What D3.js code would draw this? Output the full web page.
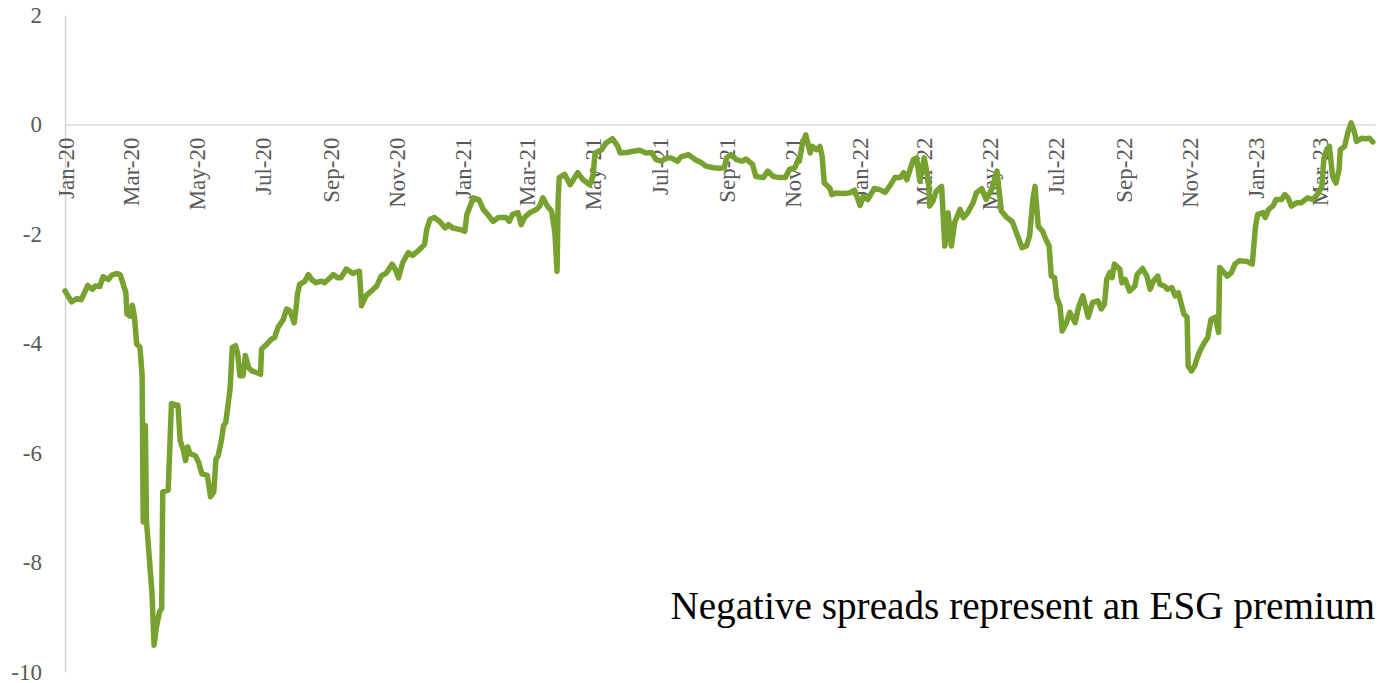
<!DOCTYPE html>
<html><head><meta charset="utf-8">
<script src="https://cdn.jsdelivr.net/npm/d3@7"></script>
<style>
html,body{margin:0;padding:0;background:#fff;}
svg{display:block;}
text{font-family:"Liberation Serif","Times New Roman",serif;}
</style></head>
<body><svg id="chart" width="1381" height="683"></svg>
<script>
const dates = [
"2020-01-01","2020-01-07","2020-01-12","2020-01-16","2020-01-22","2020-01-26","2020-01-29","2020-02-02","2020-02-05","2020-02-10",
"2020-02-13","2020-02-18","2020-02-21","2020-02-26","2020-02-27","2020-03-01","2020-03-03","2020-03-05","2020-03-06","2020-03-07",
"2020-03-10","2020-03-12","2020-03-13","2020-03-15","2020-03-16","2020-03-17","2020-03-21","2020-03-23","2020-03-25","2020-03-28",
"2020-03-30","2020-03-31","2020-04-05","2020-04-08","2020-04-14","2020-04-16","2020-04-19","2020-04-21","2020-04-23","2020-04-25",
"2020-04-30","2020-05-03","2020-05-06","2020-05-11","2020-05-14","2020-05-17","2020-05-19","2020-05-21","2020-05-24","2020-05-26",
"2020-05-28","2020-06-01","2020-06-03","2020-06-06","2020-06-08","2020-06-10","2020-06-13","2020-06-15","2020-06-18","2020-06-21",
"2020-06-25","2020-06-29","2020-06-30","2020-07-05","2020-07-09","2020-07-12","2020-07-15","2020-07-17","2020-07-20","2020-07-23",
"2020-07-26","2020-07-30","2020-08-01","2020-08-02","2020-08-04","2020-08-09","2020-08-12","2020-08-15","2020-08-19","2020-08-24",
"2020-08-27","2020-09-01","2020-09-04","2020-09-08","2020-09-11","2020-09-16","2020-09-22","2020-09-28","2020-09-30","2020-10-04",
"2020-10-09","2020-10-14","2020-10-18","2020-10-23","2020-10-28","2020-10-31","2020-11-03","2020-11-07","2020-11-12","2020-11-16",
"2020-11-21","2020-11-27","2020-11-29","2020-12-02","2020-12-06","2020-12-11","2020-12-16","2020-12-19","2020-12-23","2020-12-30",
"2021-01-03","2021-01-05","2021-01-08","2021-01-11","2021-01-16","2021-01-20","2021-01-24","2021-01-29","2021-02-03","2021-02-10",
"2021-02-13","2021-02-16","2021-02-21","2021-02-24","2021-02-27","2021-03-04","2021-03-10","2021-03-13","2021-03-16","2021-03-20",
"2021-03-24","2021-03-27","2021-03-29","2021-03-30","2021-03-31","2021-04-05","2021-04-10","2021-04-13","2021-04-17","2021-04-22",
"2021-04-28","2021-05-01","2021-05-03","2021-05-09","2021-05-13","2021-05-19","2021-05-24","2021-05-26","2021-06-01","2021-06-07",
"2021-06-13","2021-06-19","2021-06-24","2021-06-28","2021-07-03","2021-07-08","2021-07-12","2021-07-18","2021-07-21","2021-07-28",
"2021-08-03","2021-08-09","2021-08-13","2021-08-20","2021-08-26","2021-08-30","2021-09-01","2021-09-05","2021-09-10","2021-09-15",
"2021-09-19","2021-09-25","2021-09-28","2021-10-05","2021-10-09","2021-10-14","2021-10-20","2021-10-25","2021-10-29","2021-11-03",
"2021-11-06","2021-11-07","2021-11-10","2021-11-13","2021-11-17","2021-11-19","2021-11-23","2021-11-26","2021-11-28","2021-11-30",
"2021-12-05","2021-12-07","2021-12-11","2021-12-17","2021-12-23","2021-12-28","2022-01-02","2022-01-05","2022-01-09","2022-01-15",
"2022-01-20","2022-01-25","2022-01-29","2022-02-03","2022-02-08","2022-02-11","2022-02-14","2022-02-17","2022-02-20","2022-02-23",
"2022-02-26","2022-03-02","2022-03-06","2022-03-07","2022-03-10","2022-03-13","2022-03-18","2022-03-21","2022-03-24","2022-03-27",
"2022-03-30","2022-04-04","2022-04-07","2022-04-11","2022-04-16","2022-04-19","2022-04-24","2022-04-28","2022-05-03","2022-05-08",
"2022-05-12","2022-05-17","2022-05-22","2022-05-26","2022-05-31","2022-06-04","2022-06-07","2022-06-10","2022-06-12","2022-06-15",
"2022-06-19","2022-06-22","2022-06-25","2022-06-27","2022-06-30","2022-07-02","2022-07-05","2022-07-07","2022-07-11","2022-07-14",
"2022-07-19","2022-07-22","2022-07-26","2022-07-31","2022-08-04","2022-08-09","2022-08-12","2022-08-15","2022-08-17","2022-08-20",
"2022-08-22","2022-08-24","2022-08-29","2022-08-31","2022-09-03","2022-09-07","2022-09-12","2022-09-14","2022-09-19","2022-09-23",
"2022-09-26","2022-09-29","2022-10-03","2022-10-05","2022-10-09","2022-10-12","2022-10-16","2022-10-19","2022-10-22","2022-10-27",
"2022-10-30","2022-10-31","2022-11-03","2022-11-06","2022-11-08","2022-11-11","2022-11-15","2022-11-18","2022-11-21","2022-11-25",
"2022-11-28","2022-11-29","2022-12-02","2022-12-06","2022-12-10","2022-12-13","2022-12-17","2022-12-24","2022-12-29","2023-01-01",
"2023-01-03","2023-01-08","2023-01-10","2023-01-13","2023-01-17","2023-01-20","2023-01-25","2023-01-28","2023-01-31","2023-02-03",
"2023-02-08","2023-02-12","2023-02-18","2023-02-23","2023-02-28","2023-03-03","2023-03-05","2023-03-07","2023-03-10","2023-03-13",
"2023-03-16","2023-03-19","2023-03-20","2023-03-24","2023-03-27","2023-03-30","2023-04-02","2023-04-04","2023-04-09","2023-04-13",
"2023-04-16","2023-04-19"
];
const spreads = [
-3.04,-3.24,-3.18,-3.20,-2.94,-3.01,-2.95,-2.96,-2.78,-2.83,
-2.75,-2.72,-2.75,-3.07,-3.46,-3.50,-3.30,-3.52,-3.77,-4.01,
-4.07,-4.59,-7.26,-5.50,-7.25,-7.50,-8.53,-9.51,-9.20,-8.90,
-8.84,-6.71,-6.68,-5.10,-5.13,-5.77,-5.95,-6.14,-5.89,-6.01,
-6.05,-6.17,-6.38,-6.41,-6.80,-6.71,-6.11,-6.05,-5.77,-5.50,
-5.44,-4.83,-4.07,-4.04,-4.19,-4.59,-4.59,-4.22,-4.44,-4.50,
-4.53,-4.56,-4.10,-4.01,-3.92,-3.89,-3.71,-3.65,-3.56,-3.37,
-3.40,-3.62,-3.31,-3.10,-2.92,-2.86,-2.74,-2.83,-2.89,-2.86,
-2.89,-2.80,-2.74,-2.80,-2.80,-2.64,-2.72,-2.68,-3.31,-3.13,
-3.04,-2.95,-2.77,-2.71,-2.55,-2.64,-2.80,-2.52,-2.34,-2.39,
-2.31,-2.19,-1.92,-1.73,-1.70,-1.77,-1.89,-1.83,-1.89,-1.92,
-1.95,-1.64,-1.49,-1.34,-1.37,-1.55,-1.64,-1.77,-1.70,-1.70,
-1.77,-1.64,-1.61,-1.83,-1.70,-1.61,-1.55,-1.49,-1.34,-1.49,
-1.58,-1.98,-2.68,-1.37,-0.97,-0.91,-1.10,-1.01,-0.88,-1.01,
-1.10,-0.95,-0.52,-0.46,-0.34,-0.26,-0.40,-0.52,-0.51,-0.49,
-0.47,-0.52,-0.51,-0.64,-0.67,-0.61,-0.61,-0.67,-0.59,-0.55,
-0.64,-0.70,-0.76,-0.79,-0.80,-0.79,-0.61,-0.55,-0.64,-0.67,
-0.63,-0.73,-0.95,-0.97,-0.85,-0.95,-0.97,-0.97,-0.82,-0.79,
-0.64,-0.67,-0.34,-0.19,-0.52,-0.40,-0.46,-0.40,-0.58,-1.07,
-1.16,-1.28,-1.25,-1.26,-1.25,-1.20,-1.48,-1.31,-1.37,-1.17,
-1.19,-1.24,-1.13,-0.97,-0.97,-0.88,-1.01,-0.82,-0.64,-0.61,
-1.04,-0.61,-1.04,-1.49,-1.40,-1.22,-1.13,-2.22,-1.61,-2.22,
-1.79,-1.55,-1.70,-1.61,-1.43,-1.25,-1.17,-1.37,-1.19,-0.85,
-1.58,-1.70,-1.77,-1.98,-2.25,-2.22,-2.04,-1.37,-1.13,-1.86,
-1.95,-2.10,-2.22,-2.77,-2.80,-3.16,-3.31,-3.77,-3.62,-3.43,
-3.62,-3.34,-3.13,-3.52,-3.25,-3.22,-3.37,-3.28,-2.83,-2.70,
-2.80,-2.55,-2.64,-2.89,-2.83,-3.04,-2.95,-2.74,-2.63,-2.77,
-3.01,-2.86,-2.77,-2.92,-2.95,-3.01,-2.98,-3.13,-3.07,-3.46,
-3.52,-4.41,-4.50,-4.41,-4.28,-4.13,-3.98,-3.89,-3.56,-3.52,
-3.80,-2.61,-2.68,-2.77,-2.70,-2.55,-2.49,-2.50,-2.55,-1.86,
-1.64,-1.61,-1.70,-1.55,-1.49,-1.37,-1.37,-1.28,-1.34,-1.49,
-1.43,-1.43,-1.34,-1.37,-1.25,-1.13,-0.61,-0.49,-0.40,-0.95,
-1.07,-0.82,-0.46,-0.40,-0.15,0.03,-0.13,-0.31,-0.25,-0.26,
-0.25,-0.32
];
const yTicks = [2, 0, -2, -4, -6, -8, -10];
const xTickMonths = ["2020-01-01","2020-03-01","2020-05-01","2020-07-01","2020-09-01","2020-11-01",
"2021-01-01","2021-03-01","2021-05-01","2021-07-01","2021-09-01","2021-11-01",
"2022-01-01","2022-03-01","2022-05-01","2022-07-01","2022-09-01","2022-11-01",
"2023-01-01","2023-03-01"];
const domainDates = ["2020-01-01","2023-04-21"];
const annotation = "Negative spreads represent an ESG premium";

const parse = d3.utcParse("%Y-%m-%d");
const data = dates.map((d,i)=>({date:parse(d), v:spreads[i]}));

const svg = d3.select("#chart");
const x = d3.scaleUtc().domain(domainDates.map(parse)).range([65, 1375]);
const y = d3.scaleLinear().domain([-10, 2]).range([672, 15]);

// y axis
const yAxis = d3.axisLeft(y).tickValues(yTicks).tickSize(0).tickPadding(23).tickFormat(d => String(d));
const gy = svg.append("g").attr("transform","translate(65,0)").call(yAxis);
gy.select(".domain").attr("stroke","#d0d0d0").attr("stroke-width",1.3);
gy.selectAll("text").attr("fill","#595959").attr("font-size",23).style("font-family","Liberation Serif");

// x axis at y=0
const xAxis = d3.axisBottom(x).tickValues(xTickMonths.map(parse)).tickSize(0).tickFormat(d3.utcFormat("%b-%y"));
const gx = svg.append("g").attr("transform",`translate(0,${y(0)})`).call(xAxis);
gx.select(".domain").attr("stroke","#d9d9d9").attr("stroke-width",1.5);
gx.selectAll("text")
  .attr("fill","#595959").attr("font-size",23).style("font-family","Liberation Serif")
  .attr("text-anchor","end")
  .attr("transform","translate(0,13) rotate(-90)")
  .attr("x",0).attr("y",0).attr("dy","0.35em");

// line
const line = d3.line().x(d=>x(d.date)).y(d=>y(d.v));
svg.append("path").datum(data)
  .attr("fill","none").attr("stroke","#78a22f").attr("stroke-width",5.5)
  .attr("stroke-linejoin","round").attr("stroke-linecap","round")
  .attr("d", line);

// annotation
const t = svg.append("text").attr("x",1375).attr("y",619).attr("text-anchor","end")
  .attr("fill","#000").attr("font-size",37).text(annotation);
const w = t.node().getComputedTextLength();
t.attr("font-size", 37*705/w);
</script></body></html>
